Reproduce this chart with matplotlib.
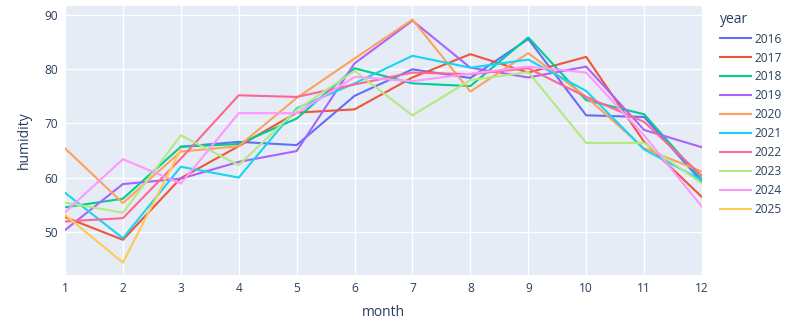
import matplotlib.pyplot as plt

plt.rcParams['font.family'] = ['Open Sans', 'DejaVu Sans']

# monthly mean humidity by year
months = list(range(1, 13))
years = ['2016', '2017', '2018', '2019', '2020', '2021', '2022', '2023', '2024', '2025']

h2016 = [65.7, 66.6, 66.0, 75.1, 80.0, 78.4, 85.6, 71.5, 71.2, 59.2]  # Mar-Dec
h2017 = [52.7, 48.5, 59.9, 65.8, 72.0, 72.6, 78.5, 82.8, 79.4, 82.3, 66.6, 56.4]
h2018 = [54.5, 56.1, 65.7, 66.2, 70.9, 80.2, 77.4, 76.9, 85.9, 74.3, 71.7, 59.6]
h2019 = [50.3, 58.8, 59.8, 62.9, 64.9, 81.1, 89.0, 80.3, 78.5, 80.5, 68.8, 65.6]
h2020 = [65.4, 55.3, 64.8, 65.8, 74.7, 82.0, 89.2, 75.9, 83.0, 74.9, 65.4, 61.1]
h2021 = [57.2, 48.8, 62.0, 60.0, 72.8, 77.4, 82.5, 80.3, 81.8, 76.0, 65.2, 59.5]
h2022 = [51.9, 52.5, 63.5, 75.2, 74.9, 77.2, 79.4, 79.1, 80.2, 74.9, 70.3, 60.3]
h2023 = [55.4, 53.5, 67.8, 62.3, 72.5, 79.7, 71.5, 78.0, 79.5, 66.4, 66.4, 58.9]
h2024 = [53.6, 63.4, 58.9, 71.9, 71.9, 78.6, 77.8, 79.2, 80.5, 79.4, 67.8, 54.6]
h2025 = [53.1, 44.3, 65.2]  # Jan-Mar

series = {
    '2016': (months[2:], h2016),
    '2017': (months, h2017),
    '2018': (months, h2018),
    '2019': (months, h2019),
    '2020': (months, h2020),
    '2021': (months, h2021),
    '2022': (months, h2022),
    '2023': (months, h2023),
    '2024': (months, h2024),
    '2025': (months[:3], h2025),
}

colors = ['#636EFA', '#EF553B', '#00CC96', '#AB63FA', '#FFA15A',
          '#19D3F3', '#FF6692', '#B6E880', '#FF97FF', '#FECB52']

fig = plt.figure(figsize=(7.94, 3.24), dpi=100)
ax = fig.add_axes([65 / 794, 1 - 275 / 324, 637 / 794, 269 / 324])
ax.set_facecolor('#E5ECF6')

for yr, c in zip(years, colors):
    x, y = series[yr]
    ax.plot(x, y, color=c, lw=1.5, label=yr, solid_joinstyle='round')

ax.set_xlim(1, 12)
ax.set_ylim(42.0, 91.7)
ax.set_xticks(months)
ax.set_yticks([50, 60, 70, 80, 90])
ax.grid(True, color='white', lw=1)
ax.set_axisbelow(True)
for s in ax.spines.values():
    s.set_visible(False)
ax.tick_params(length=0, labelsize=8.6, labelcolor='#2a3f5f', pad=5)
ax.set_xlabel('month', fontsize=10, color='#2a3f5f', labelpad=7)
ax.set_ylabel('humidity', fontsize=10, color='#2a3f5f', labelpad=9)

leg = fig.legend(loc='upper left', bbox_to_anchor=(710 / 794, 1 - 2 / 324),
                 frameon=False, title='year', fontsize=8.6, title_fontsize=10,
                 handlelength=2.6, handletextpad=0.3, labelspacing=0.5,
                 borderpad=0.3, alignment='left')
for t in leg.get_texts():
    t.set_color('#2a3f5f')
leg.get_title().set_color('#2a3f5f')

fig.savefig('out.png', dpi=100)
